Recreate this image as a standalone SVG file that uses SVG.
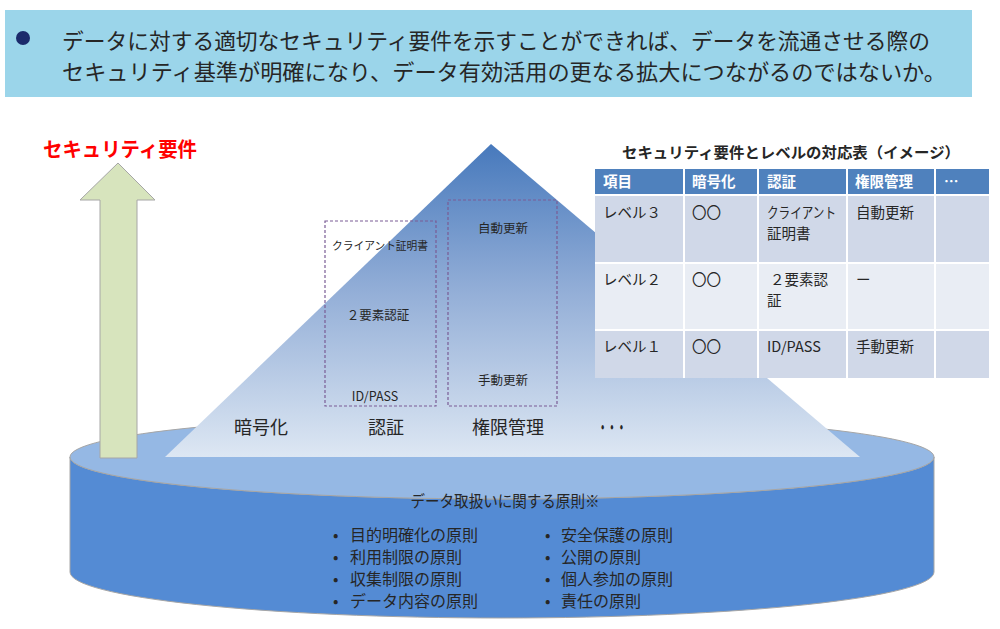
<svg xmlns="http://www.w3.org/2000/svg" width="1000" height="629" viewBox="0 0 1000 629">
<defs>
<linearGradient id="triGrad" x1="0" y1="144" x2="0" y2="457" gradientUnits="userSpaceOnUse">
<stop offset="0" stop-color="#4779bc"/>
<stop offset="0.45" stop-color="#90acd6"/>
<stop offset="1" stop-color="#dde7f3"/>
</linearGradient>
<style>
.jp{font-family:"Noto Sans CJK JP","Noto Sans",sans-serif;fill:#262626}
.hd{font-size:22px}
.lbl{font-size:18px}
.sm{font-size:11px}
.md{font-size:12.5px}
.cell{font-size:14.5px}
.th{font-size:14.5px;font-weight:bold;fill:#ffffff}
.pr{font-size:16px}
.dash{fill:none;stroke:#7a5c95;stroke-width:1.2;stroke-dasharray:3,2}
</style>
</defs>
<rect width="1000" height="629" fill="#ffffff"/>

<g id="header">
<rect x="5" y="10" width="967" height="87" fill="#9bd5ea"/>
<circle cx="23" cy="38" r="7" fill="#1b2a6b"/>
<text class="jp hd" x="62" y="49" textLength="868" lengthAdjust="spacingAndGlyphs">データに対する適切なセキュリティ要件を示すことができれば、データを流通させる際の</text>
<text class="jp hd" x="62" y="80" textLength="884" lengthAdjust="spacingAndGlyphs">セキュリティ基準が明確になり、データ有効活用の更なる拡大につながるのではないか。</text>
</g>

<g id="cylinder">
<path d="M70,457 L70,572 A432,46 0 0 0 934,572 L934,457 A432,42 0 0 1 70,457 Z" fill="#548bd4" stroke="#a6a6a6" stroke-width="1"/>
<ellipse cx="502" cy="457" rx="432" ry="42" fill="#95b8e4" stroke="#a6a6a6" stroke-width="1"/>
<text class="jp pr" x="505" y="507" text-anchor="middle" textLength="189" lengthAdjust="spacingAndGlyphs">データ取扱いに関する原則※</text>
<g class="jp pr">
<text x="333" y="541">•</text><text x="350" y="541">目的明確化の原則</text>
<text x="333" y="563">•</text><text x="350" y="563">利用制限の原則</text>
<text x="333" y="585">•</text><text x="350" y="585">収集制限の原則</text>
<text x="333" y="607">•</text><text x="350" y="607">データ内容の原則</text>
<text x="545" y="541">•</text><text x="561" y="541">安全保護の原則</text>
<text x="545" y="563">•</text><text x="561" y="563">公開の原則</text>
<text x="545" y="585">•</text><text x="561" y="585">個人参加の原則</text>
<text x="545" y="607">•</text><text x="561" y="607">責任の原則</text>
</g>
</g>

<g id="arrow">
<path d="M100,458 L100,200 L80,200 L118,163 L155,200 L137,200 L137,458 Z" fill="#d7e4bd" stroke="#a6a6a6" stroke-width="1"/>
<text x="43" y="157" font-family="'Noto Sans CJK JP',sans-serif" font-size="20" font-weight="bold" fill="#ff0000" textLength="154" lengthAdjust="spacingAndGlyphs">セキュリティ要件</text>
</g>

<g id="pyramid">
<polygon points="491,144 860,457 165,457" fill="url(#triGrad)"/>
<text class="jp lbl" x="261" y="434" text-anchor="middle">暗号化</text>
<text class="jp lbl" x="386" y="434" text-anchor="middle">認証</text>
<text class="jp lbl" x="508" y="434" text-anchor="middle">権限管理</text>
<text class="jp lbl" x="612" y="434" text-anchor="middle" font-weight="bold" textLength="28" lengthAdjust="spacingAndGlyphs">・・・</text>
</g>

<g id="auth-box">
<rect class="dash" x="325" y="221" width="111" height="185"/>
<text class="jp sm" x="380" y="250" text-anchor="middle" textLength="96" lengthAdjust="spacingAndGlyphs">クライアント証明書</text>
<text class="jp md" x="378" y="320" text-anchor="middle">２要素認証</text>
<text class="jp md" x="375" y="401" text-anchor="middle">ID/PASS</text>
</g>

<g id="perm-box">
<rect class="dash" x="448" y="200" width="109" height="206"/>
<text class="jp md" x="503" y="233" text-anchor="middle">自動更新</text>
<text class="jp md" x="503" y="385" text-anchor="middle">手動更新</text>
</g>

<g id="table">
<text class="jp" x="791" y="158" text-anchor="middle" font-size="15" font-weight="bold" textLength="338" lengthAdjust="spacingAndGlyphs">セキュリティ要件とレベルの対応表（イメージ）</text>
<rect x="595" y="169" width="394" height="209" fill="#ffffff"/>
<g fill="#4f81bd">
<rect x="595" y="169" width="88" height="25"/>
<rect x="685" y="169" width="72" height="25"/>
<rect x="759" y="169" width="87" height="25"/>
<rect x="848" y="169" width="86" height="25"/>
<rect x="936" y="169" width="53" height="25"/>
</g>
<g fill="#d0d8e8">
<rect x="595" y="196" width="88" height="66"/>
<rect x="685" y="196" width="72" height="66"/>
<rect x="759" y="196" width="87" height="66"/>
<rect x="848" y="196" width="86" height="66"/>
<rect x="936" y="196" width="53" height="66"/>
<rect x="595" y="331" width="88" height="47"/>
<rect x="685" y="331" width="72" height="47"/>
<rect x="759" y="331" width="87" height="47"/>
<rect x="848" y="331" width="86" height="47"/>
<rect x="936" y="331" width="53" height="47"/>
</g>
<g fill="#e9edf4">
<rect x="595" y="264" width="88" height="65"/>
<rect x="685" y="264" width="72" height="65"/>
<rect x="759" y="264" width="87" height="65"/>
<rect x="848" y="264" width="86" height="65"/>
<rect x="936" y="264" width="53" height="65"/>
</g>
<text class="jp th" x="603" y="187">項目</text>
<text class="jp th" x="692" y="187">暗号化</text>
<text class="jp th" x="767" y="187">認証</text>
<text class="jp th" x="855" y="187">権限管理</text>
<text class="jp th" x="944" y="187">…</text>
<text class="jp cell" x="603" y="218">レベル３</text>
<text class="jp cell" x="692" y="218">〇〇</text>
<text class="jp cell" x="767" y="218" textLength="69" lengthAdjust="spacingAndGlyphs">クライアント</text>
<text class="jp cell" x="767" y="239">証明書</text>
<text class="jp cell" x="856" y="218">自動更新</text>
<text class="jp cell" x="603" y="285">レベル２</text>
<text class="jp cell" x="692" y="285">〇〇</text>
<text class="jp cell" x="770" y="285">２要素認</text>
<text class="jp cell" x="767" y="306">証</text>
<text class="jp cell" x="856" y="285">ー</text>
<text class="jp cell" x="603" y="352">レベル１</text>
<text class="jp cell" x="692" y="352">〇〇</text>
<text class="jp cell" x="767" y="352">ID/PASS</text>
<text class="jp cell" x="856" y="352">手動更新</text>
</g>
</svg>
